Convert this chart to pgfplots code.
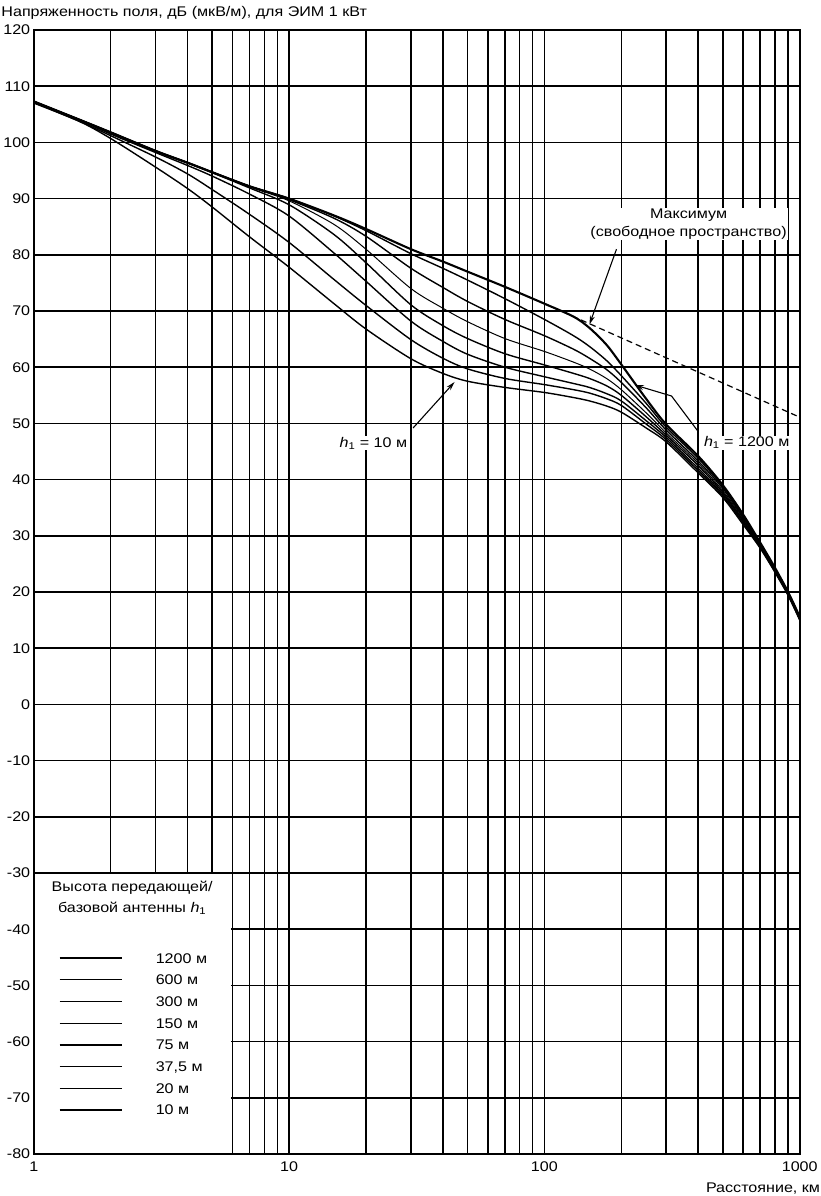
\documentclass[border=0pt]{standalone}
\usepackage{fontspec}
\setmainfont{Liberation Sans}[FakeStretch=1.15]
\usepackage{pgfplots}
\pgfplotsset{compat=1.18}
\usepackage{pgfplotstable}
\usetikzlibrary{arrows.meta}

\pgfplotstableread{
d    h1200 h600  h300  h150  h75   h37   h20   h10
1    107.3 107.3 107.3 107.3 107.2 107.2 107.1 107.0
1.5  104.1 104.1 104.1 104.1 104.1 104.0 103.8 103.8
2    101.8 101.8 101.8 101.8 101.7 101.5 101.2 100.7
3    98.5  98.5  98.5  98.5  98.4  98.2  97.4  95.6
4    96.4  96.4  96.4  96.4  96.3  95.9  94.4  91.8
5    94.7  94.7  94.7  94.7  94.6  94.0  91.6  88.5
7    92.2  92.2  92.2  92.1  91.9  90.8  87.2  83.2
10   90.0  90.0  89.8  89.6  88.9  86.9  82.2  77.8
15   87.0  86.9  86.5  85.4  83.6  80.3  75.6  71.3
20   84.6  84.3  83.3  81.0  78.6  75.3  71.0  66.8
30   81.0  80.2  77.6  74.0  71.1  68.2  64.9  61.5
40   78.8  77.6  74.2  70.5  67.4  64.6  61.6  58.9
50   77.0  75.5  71.7  68.1  65.1  62.3  59.7  57.5
70   74.3  72.2  68.5  65.1  62.4  60.0  58.0  56.4
100  71.3  68.5  65.6  62.8  60.4  58.3  56.9  55.5
130  69.0  65.6  63.2  60.9  58.9  57.1  56.0  54.6
150  67.0  63.7  61.6  59.7  58.0  56.4  55.4  54.0
175  64.0  61.2  59.6  58.0  56.7  55.3  54.4  53.1
200  60.5  58.5  57.3  56.0  55.0  54.0  53.2  52.0
250  54.4  53.6  52.8  51.9  51.2  50.5  49.9  49.2
300  49.8  49.3  48.8  48.3  47.9  47.5  47.1  46.7
400  44.2  43.8  43.3  42.9  42.5  42.0  41.6  41.2
500  39.0  38.7  38.4  38.0  37.7  37.4  37.1  36.8
600  33.8  33.6  33.3  33.1  32.8  32.6  32.3  32.0
700  28.8  28.7  28.5  28.4  28.2  28.1  27.9  27.8
800  24.3  24.2  24.1  24.0  23.8  23.7  23.6  23.5
900  20.0  20.0  19.9  19.8  19.7  19.6  19.5  19.4
1000 15.6  15.5  15.5  15.4  15.3  15.2  15.1  15.0
}\fieldtable

\newcommand{\fs}{\fontsize{14}{17}\selectfont}

\begin{document}
\begin{tikzpicture}[font=\fs]
\begin{axis}[
  xmode=log, log basis x=10,
  scale only axis, width=766pt, height=1124pt,
  xmin=1, xmax=1000, ymin=-80, ymax=120,
  xtick={1,10,100,1000}, xticklabels={1,10,100,1000},
  minor xtick={2,3,4,5,6,7,8,9,20,30,40,50,60,70,80,90,200,300,400,500,600,700,800,900},
  ytick={-80,-70,...,120},
  grid=both,
  major grid style={black, line width=1.5pt},
  minor grid style={black, line width=1.5pt},
  major tick length=0pt, minor tick length=0pt,
  axis line style={line width=2pt},
  yticklabel style={/pgf/number format/assume math mode=true},
  xticklabel style={yshift=-4pt},
  tick label style={font=\fs},
  clip=false,
  no markers,
  cycle list={{black,solid}},
  every axis plot/.append style={black, solid, line width=1.4pt, smooth},
  legend style={draw=none, fill=none, inner sep=0pt, outer sep=0pt,
    at={(0.0326,0.184)}, anchor=north west, font=\fs,
    column sep=33pt, row sep=0pt,
    nodes={inner xsep=0pt, inner ysep=5.85pt, text height=10pt, text depth=0pt}},
  legend cell align=left,
  legend image code/.code={\draw[#1] (0pt,0pt) -- (62pt,0pt);},
]
% white area behind the legend
\fill[white] (axis cs:1,-30.15) rectangle (axis cs:5.9,-80);

\addplot[black, solid, line width=2.1pt] table[x=d,y=h1200] {\fieldtable};
\addlegendentry{1200 м}
\addplot[black, solid] table[x=d,y=h600] {\fieldtable};
\addlegendentry{600 м}
\addplot[black, solid] table[x=d,y=h300] {\fieldtable};
\addlegendentry{300 м}
\addplot[black, solid, line width=1.0pt] table[x=d,y=h150] {\fieldtable};
\addlegendentry{150 м}
\addplot[black, solid] table[x=d,y=h75] {\fieldtable};
\addlegendentry{75 м}
\addplot[black, solid] table[x=d,y=h37] {\fieldtable};
\addlegendentry{37,5 м}
\addplot[black, solid] table[x=d,y=h20] {\fieldtable};
\addlegendentry{20 м}
\addplot[black, solid] table[x=d,y=h10] {\fieldtable};
\addlegendentry{10 м}

\addplot[black, line width=1.2pt, dash pattern=on 6pt off 4pt, forget plot, sharp plot]
  coordinates {(100,71.3) (1000,51.1)};

% frame redrawn on top
\draw[line width=2pt] (rel axis cs:0,0) rectangle (rel axis cs:1,1);

% legend title
\node[align=center, font=\fontsize{14}{21}\selectfont] at (axis cs:2.43,-34.36)
  {Высота передающей/\\базовой антенны \textit{h}\textsubscript{1}};

% annotations
\node[align=center, fill=white, inner sep=1pt, font=\fontsize{14}{18.3}\selectfont] at (axis cs:367,85.48)
  {Максимум\\(свободное пространство)};
\draw[line width=1.1pt, -{Stealth[length=9pt,width=5pt]}]
  (axis cs:191.6,81.0) -- (axis cs:150.1,67.6);

\node[fill=white, inner sep=1pt] at (axis cs:620,46.57) {\textit{h}\textsubscript{1} = 1200 м};
\draw[line width=1.1pt, -{Stealth[length=9pt,width=5pt]}]
  (axis cs:400.6,48.52) -- (axis cs:314.8,54.87) -- (axis cs:226,56.83);

\node[fill=white, inner sep=1pt] at (axis cs:21.4,46.5) {\textit{h}\textsubscript{1} = 10 м};
\draw[line width=1.1pt, -{Stealth[length=9pt,width=5pt]}]
  (axis cs:30.6,49.18) -- (axis cs:44.5,57.37);

% titles
\node[anchor=base west, inner sep=0pt] at ([shift={(-32.5pt,13.3pt)}]rel axis cs:0,1)
  {Напряженность поля, дБ (мкВ/м), для ЭИМ 1 кВт};
\node[anchor=base east, inner sep=0pt] at ([shift={(20.5pt,-38pt)}]rel axis cs:1,0)
  {Расстояние, км};
\end{axis}
\path ([shift={(-32.5pt,-42pt)}]current axis.south west) rectangle ([shift={(20.5pt,30pt)}]current axis.north east);
\end{tikzpicture}
\end{document}
